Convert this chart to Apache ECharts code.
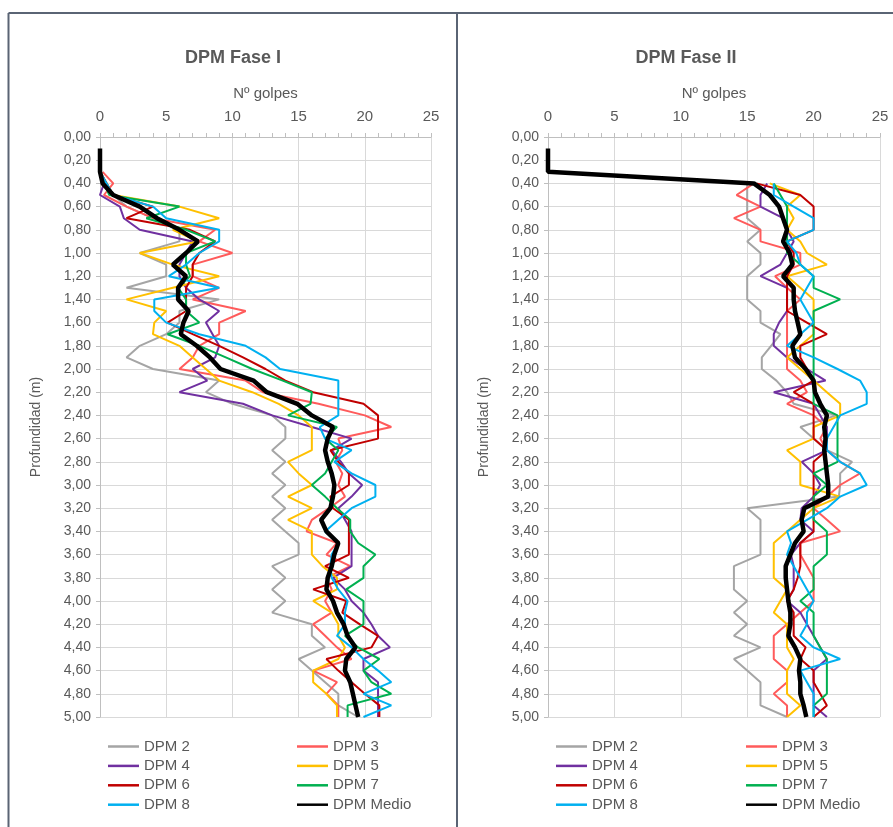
<!DOCTYPE html>
<html><head><meta charset="utf-8">
<script src="https://cdn.jsdelivr.net/npm/echarts@6/dist/echarts.min.js"></script>
<style>html,body{margin:0;padding:0;background:#fff}#c{width:893px;height:827px}</style>
</head><body><div id="c"></div>
<script>
// Depth (m) every 0.1 from 0.0 to 5.0
const depths = Array.from({length: 51}, (_, i) => +(i / 10).toFixed(1));
const xTicks = [0, 5, 10, 15, 20, 25];
const seriesNames = ['DPM 2','DPM 3','DPM 4','DPM 5','DPM 6','DPM 7','DPM 8','DPM Medio'];
const titles = ['DPM Fase I', 'DPM Fase II'];

// ---- Fase I ----
const f1_dpm2 = [null,null,null, 0,0.5,1,2,4,6,6, 3,5,5,2,9,6,6,5,3,2, 4,9,8,10,13,14,14,13,14,13, 14,13,14,13,14,15,15,13,14,13, 14,13,16,16,17,15,16,17,18,18, 19.5];
const f1_dpm3 = [null,null,null, 0.2,1,0.3,2,4,8.7,7.5, 10,7,7,9,7,11,9,9,7.5,7, 6,11,12.3,16.5,20,22,18,18.3,17.8,18.3, 18,18.5,17.3,16,15.6,17.9,17.1,18.9,17.1,17.5, 17,17.5,16.1,17,17.9,19,16.1,17.9,17.1,18, 18];
const f1_dpm4 = [null,null,null, 0,0.3,0,1.5,1.8,3,7, 6.5,6,6,6.5,7.5,9,8,8.5,9,8.7, 7,8.1,6,10.8,13,16,19,17.5,18.2,18.8, 19.8,19,18,18.5,19,19,19,19,17.6,18.5, 19,19.9,20.5,21,21.9,19.9,19.9,21,21,21, 21];
const f1_dpm5 = [null,null,null, 0,0.5,1,6,9,5.5,7.4, 3,5.5,9,5.5,2,5,4.1,4,6,7, 8,9,11.5,13.5,15,16,16,16,14.2,15, 16,14.2,16,14.2,16,16,16,16.8,17.9,17.9, 16.1,17.5,18,18,18.5,18,16.1,16.1,17.1,17.9, 17.9];
const f1_dpm6 = [null,null,null, 0,0.5,1,4,2,6.8,8.7, 7.5,7,7,6.5,6.5,6.5,5.1,7,9,10.8, 12.5,14,16.1,19.9,21,21,21,17.4,18,18.8, 18.8,17.4,17.6,18.8,18.8,18.8,18.8,17,18.8,16.1, 18.6,18.3,19.6,21,20.5,17.1,18,19,20,21.1, 21.1];
const f1_dpm7 = [null,null,null, 0,0.3,0.7,6,3.5,6.5,8.7, 6.5,6.5,6.8,5.9,6.5,6.5,7.5,5.1,7.5,9.5, 11.5,13.8,16,15.9,14.2,17.9,17,18,17.5,17, 16,17,17.9,18.9,18.9,19.5,20.8,19.9,19.9,18.6, 19.9,19.9,19.9,18.5,19.5,21.1,19.9,20.5,22,18.7, 18.7];
const f1_dpm8 = [null,null,null, 0,0.5,1,4,5,9,9, 7.5,6.5,5.2,9,4.1,4.1,5,7.5,11,12.5, 13.6,18,18,18,18,16.6,17,19,17.7,19, 20.8,20.8,19,18,17,18,17.5,17.4,17.5,18, 18.7,18.5,18.5,17.9,19,19.9,21,22,19.9,22, 19.9];
const f1_medio = [null,0,0,0,0.2,1.0,3.0,4.3,6.0,7.4, 6.5,5.5,6.5,5.9,5.9,6.7,6.3,6.1,7.3,8.3, 9.1,11.6,12.6,14.9,16.0,17.6,17.2,17.0,17.2,17.5, 17.7,17.6,17.4,16.7,17.1,18.0,17.7,17.5,17.2,17.1, 17.6,17.9,18.4,18.7,19.3,18.6,18.5,18.9,19.1,19.3, 19.5];

// ---- Fase II ----
const f2_dpm2 = [null,null,null,null, 15,15,15,15,16,15, 16,16,15,15,15,16,16,17.5,16.8,16.1, 16.1,17.2,18,18.5,21.7,19,20,21,22.9,22, 22,21.9,15,16,16,16,16,14,14,14, 15,14,15,14,16,14,15,16,16,16, 18];
const f2_dpm3 = [null,null,null,null, 15.5,14.2,16,14,16,16, 19,19,17.1,18,19,18,18,18,18,18, 18,19,19.5,18,20,21,20.5,21,22,23.5, 22,21,20,21,22,19,19,19.5,20,20, 20,19,18,17,17,17,18,18,17,18, 18];
const f2_dpm4 = [null,null,null,null, 16.5,16,16,17.7,18,18.5, 18,17.5,16,18,18,18,17.4,17,17,18, 19.5,20.9,17,20,20.5,21,21,21,19.1,20, 20.5,20,19.1,19,20,19,18.3,18.5,18.5,18.5, 18,19,19.5,20,20.5,21,20,20,20,20, 21];
const f2_dpm5 = [null,null,null,null, 16.7,19,18,18.5,18,19, 19.5,21,18,19,20,20,20,20,19,18, 19,20,21,22,22,20,20,18,19,19, 19,22,20,19,18,17,17,17,17,18, 17.5,17,18,18,18,18.5,18,18,18,19, 18];
const f2_dpm6 = [null,null,null,null, 15.7,19,20,20,20,18, 18.5,18.5,18,18,18,18,19.5,21,19,19, 19.5,20,18.5,20,20,20,20,21,20,20, 20,20,20,20,20,19,19,19,18.8,18.5, 18,18.5,18.5,18.5,19.4,19,20,20,20.5,21, 20];
const f2_dpm7 = [null,null,null,null, 17,17.5,18,18,18,18, 18,19,20,20,22,20,20,20,20,20, 20,20,20,20,21.8,21.8,21.8,21.8,21.8,20, 21,20,20,20,21,21,21,20,20,20, 19,20,20,20,20.5,21,21,21,21,20, 20];
const f2_dpm8 = [null,null,null,null, 17,17,18.5,20,20,18, 18.7,19,20,19.5,19,19.5,20,19,18,20, 21.8,23.5,24,24,22,21.5,21,21,22,23.5, 24,22,21,19.5,18,18.3,18,18.5,19,19.5, 20,19.5,19.5,19,20,22,19,19.5,20,20, 20];
const f2_medio = [null,0,0,0,15.5,16.7,17.4,17.7,18.0,17.7, 18.2,18.4,17.7,18.5,18.5,18.6,18.8,19.0,18.4,18.6, 19.4,20.0,20.1,20.5,21.0,20.8,20.9,20.8,20.9,21.0, 21.1,21.1,19.3,19.1,19.25,18.6,18.25,17.9,17.9,18.0, 18.1,18.25,18.25,18.1,18.6,19.0,18.9,19.0,19.0,19.25, 19.45];

const colors = ['#A5A5A5','#FF5B5B','#7030A0','#FFC000','#C00000','#00B050','#00B0F0','#000000'];
const phase1 = [f1_dpm2,f1_dpm3,f1_dpm4,f1_dpm5,f1_dpm6,f1_dpm7,f1_dpm8,f1_medio];
const phase2 = [f2_dpm2,f2_dpm3,f2_dpm4,f2_dpm5,f2_dpm6,f2_dpm7,f2_dpm8,f2_medio];

const FONT = "'Liberation Sans',Arial,sans-serif";
const TXT = '#595959';
const grids = [{left: 100, top: 137, width: 331, height: 580}, {left: 548, top: 137, width: 332, height: 580}];

function xAx(i){
  return {gridIndex: i, type: 'value', position: 'top', min: 0, max: 25, interval: 5,
    name: 'Nº golpes', nameLocation: 'middle', nameGap: 36,
    nameTextStyle: {color: TXT, fontSize: 15, fontFamily: FONT},
    axisLine: {show: true, lineStyle: {color: '#BFBFBF', width: 1}},
    axisTick: {show: true, length: 4, lineStyle: {color: '#BFBFBF'}},
    minorTick: {show: true, splitNumber: 5, length: 4, lineStyle: {color: '#BFBFBF'}},
    splitLine: {show: true, lineStyle: {color: '#D9D9D9', width: 1}},
    axisLabel: {color: TXT, fontSize: 15, fontFamily: FONT, margin: 13,
      formatter: v => xTicks.includes(v) ? String(v) : ''}};
}
function yAx(i){
  return {gridIndex: i, type: 'value', inverse: true, min: 0, max: 5, interval: 0.2,
    name: 'Profundidad (m)', nameLocation: 'middle', nameGap: 57, nameRotate: 90,
    nameTextStyle: {color: TXT, fontSize: 14, fontFamily: FONT},
    axisLine: {show: true, onZero: false, lineStyle: {color: '#BFBFBF', width: 1}},
    axisTick: {show: true, length: 4, lineStyle: {color: '#BFBFBF'}},
    splitLine: {show: true, lineStyle: {color: '#D9D9D9', width: 1}},
    axisLabel: {color: TXT, fontSize: 14, fontFamily: FONT, margin: 9,
      formatter: v => v.toFixed(2).replace('.', ',')}};
}

const series = [];
[phase1, phase2].forEach((ph, gi) => {
  ph.forEach((vals, si) => {
    series.push({
      name: seriesNames[si], type: 'line', xAxisIndex: gi, yAxisIndex: gi,
      symbol: 'none', showSymbol: false, connectNulls: false, z: si === 7 ? 5 : 2,
      lineStyle: {color: colors[si], width: si === 7 ? 4.5 : 2},
      itemStyle: {color: colors[si]},
      data: depths.map((d, k) => [vals[k], d]).filter(p => p[0] != null)
    });
  });
});

function leg(left, names){
  return {orient: 'vertical', left: left, top: 734, itemWidth: 31, itemHeight: 14, itemGap: 4.4,
    icon: 'path://M0,6 L31,6 L31,8.5 L0,8.5 Z',
    data: names, textStyle: {color: TXT, fontSize: 15, fontFamily: FONT, lineHeight: 14}};
}
const col1 = ['DPM 2','DPM 4','DPM 6','DPM 8'];
const col2 = ['DPM 3','DPM 5','DPM 7','DPM Medio'];

const chart = echarts.init(document.getElementById('c'), null, {renderer: 'canvas'});
chart.setOption({
  animation: false,
  backgroundColor: '#fff',
  title: [
    {text: titles[0], left: 228, top: 44, textAlign: 'center', textStyle: {color: TXT, fontSize: 18, fontWeight: 'bold', fontFamily: FONT}},
    {text: titles[1], left: 681, top: 44, textAlign: 'center', textStyle: {color: TXT, fontSize: 18, fontWeight: 'bold', fontFamily: FONT}}
  ],
  grid: grids,
  xAxis: [xAx(0), xAx(1)],
  yAxis: [yAx(0), yAx(1)],
  legend: [leg(103, col1), leg(292, col2), leg(551, col1), leg(741, col2)],
  series: series,
  graphic: [
    {type: 'line', shape: {x1: 8.5, y1: 13, x2: 893, y2: 13}, style: {stroke: '#5A6474', lineWidth: 2}},
    {type: 'line', shape: {x1: 8.5, y1: 13, x2: 8.5, y2: 827}, style: {stroke: '#5A6474', lineWidth: 2}},
    {type: 'line', shape: {x1: 457, y1: 13, x2: 457, y2: 827}, style: {stroke: '#5A6474', lineWidth: 2}}
  ]
});
</script></body></html>
